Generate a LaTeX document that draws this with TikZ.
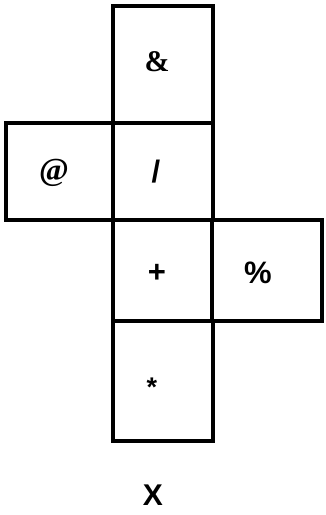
\documentclass[tikz,border=0pt]{standalone}
\usepackage{fontspec}
\setmainfont{Liberation Sans}
\newfontfamily\symserif{Liberation Serif}
\usetikzlibrary{positioning}
\tikzset{
  face/.style={draw=black,line width=4.6pt,line join=miter},
  sym/.style={font=\fontsize{31}{34}\selectfont\bfseries,inner sep=0pt}
}
\begin{document}
\begin{tikzpicture}[x=1pt,y=-1pt]
\useasboundingbox (0,0) rectangle (325,515);
% faces of the net
\draw[face] (113,6) rectangle (213,123);
\draw[face] (6,123) rectangle (113,220);
\draw[face] (113,123) rectangle (213,220);
\draw[face] (113,220) rectangle (212,321);
\draw[face] (212,220) rectangle (322,321);
\draw[face] (113,321) rectangle (213,441);
% symbols on the faces
\node[sym,font=\fontsize{30}{34}\selectfont\bfseries\symserif] (amp) at (157,62) {\&};
\node[sym,font=\fontsize{32}{34}\selectfont\bfseries\symserif] (at) at (54,173) {@};
\node[sym] (slash) at (156,172) {/};
\node[sym] (plus) at (157,273) {+};
\node[sym] (pct) at (258,273) {\%};
\node[sym,font=\fontsize{27}{30}\selectfont\bfseries] (star) at (152,387) {*};
% label below
\node[sym,font=\fontsize{30}{34}\selectfont\bfseries] (xlab) at (153,495) {X};
\end{tikzpicture}
\end{document}
